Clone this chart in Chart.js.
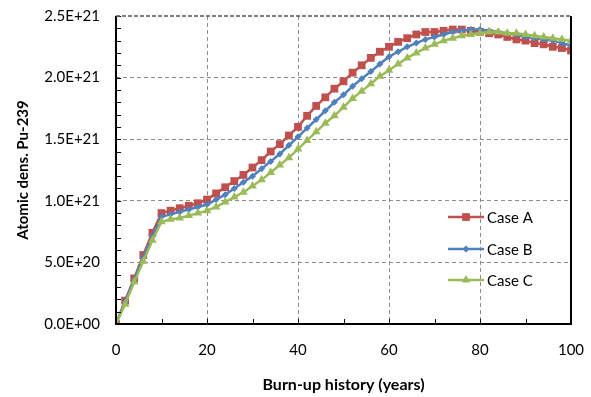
<!DOCTYPE html>
<html>
<head>
<meta charset="utf-8">
<script src="https://cdn.jsdelivr.net/npm/chart.js@4.4.1/dist/chart.umd.min.js"></script>
<style>
  html, body { margin: 0; padding: 0; background: #fff; }
  #wrap { width: 591px; height: 397px; }
</style>
</head>
<body>
<div id="wrap"><canvas id="pu239Chart" width="591" height="397"></canvas></div>
<script>
// burn-up years, every 2 years
const years = [];
for (let y = 0; y <= 100; y += 2) years.push(y);

// atomic density Pu-239, in units of 1E+21
const caseA = [0, 0.19, 0.37, 0.56, 0.74, 0.90, 0.92, 0.94, 0.96, 0.98,
  1.01, 1.06, 1.11, 1.16, 1.21, 1.27, 1.33, 1.40, 1.46, 1.53,
  1.60, 1.69, 1.77, 1.84, 1.91, 1.97, 2.04, 2.10, 2.16, 2.21,
  2.25, 2.29, 2.32, 2.35, 2.37, 2.37, 2.38, 2.39, 2.39, 2.38,
  2.37, 2.36, 2.35, 2.33, 2.31, 2.30, 2.28, 2.27, 2.25, 2.24, 2.22];
const caseB = [0, 0.18, 0.36, 0.54, 0.71, 0.87, 0.89, 0.91, 0.93, 0.95,
  0.97, 1.01, 1.05, 1.10, 1.15, 1.20, 1.26, 1.32, 1.38, 1.45,
  1.52, 1.59, 1.66, 1.73, 1.80, 1.86, 1.93, 1.99, 2.05, 2.11,
  2.17, 2.21, 2.25, 2.28, 2.31, 2.33, 2.35, 2.37, 2.38, 2.39,
  2.39, 2.38, 2.37, 2.36, 2.35, 2.33, 2.32, 2.31, 2.30, 2.28, 2.26];
const caseC = [0, 0.16, 0.34, 0.51, 0.68, 0.83, 0.85, 0.86, 0.88, 0.90,
  0.92, 0.95, 0.99, 1.03, 1.07, 1.12, 1.17, 1.23, 1.29, 1.35,
  1.42, 1.49, 1.56, 1.63, 1.69, 1.76, 1.83, 1.89, 1.95, 2.01,
  2.06, 2.11, 2.16, 2.20, 2.24, 2.27, 2.30, 2.32, 2.34, 2.35,
  2.36, 2.37, 2.37, 2.36, 2.36, 2.35, 2.34, 2.33, 2.32, 2.31, 2.30];

const yTicks = [0, 5e20, 1e21, 1.5e21, 2e21, 2.5e21];
const xTicks = [0, 20, 40, 60, 80, 100];

const toPoints = (vals) => vals.map((v, i) => ({ x: years[i], y: v * 1e21 }));

const FONT = "Lato, 'Open Sans', sans-serif";

const series = [
  { label: "Case A", data: caseA, color: "#C0504D", style: "rect", radius: 5.5, order: 3 },
  { label: "Case B", data: caseB, color: "#4F81BD", style: "rectRot", radius: 3.5, order: 2 },
  { label: "Case C", data: caseC, color: "#9BBB59", style: "triangle", radius: 5, order: 1 }
];

// inside tick marks + frame
const frameAndTicks = {
  id: "frameAndTicks",
  afterDatasetsDraw(chart) {
    const { ctx, chartArea: a, scales } = chart;
    ctx.save();
    ctx.strokeStyle = "#000";
    ctx.lineWidth = 1;
    for (let v = 0; v <= 2.5e21 + 1; v += 1e20) {
      const py = Math.round(scales.y.getPixelForValue(v)) + 0.5;
      ctx.beginPath();
      ctx.moveTo(a.left, py);
      ctx.lineTo(a.left + 5, py);
      ctx.stroke();
    }
    for (let v = 10; v < 100; v += 10) {
      const px = Math.round(scales.x.getPixelForValue(v)) + 0.5;
      ctx.beginPath();
      ctx.moveTo(px, a.bottom);
      ctx.lineTo(px, a.bottom - 5);
      ctx.stroke();
    }
    ctx.lineWidth = 2;
    ctx.beginPath();
    ctx.moveTo(a.left, a.top);
    ctx.lineTo(a.left, a.bottom);
    ctx.lineTo(a.right, a.bottom);
    ctx.lineTo(a.right, a.top);
    ctx.stroke();
    ctx.strokeStyle = "#555";
    ctx.lineWidth = 1.5;
    ctx.setLineDash([4, 2]);
    ctx.beginPath();
    ctx.moveTo(a.left, a.top);
    ctx.lineTo(a.right, a.top);
    ctx.stroke();
    ctx.restore();
  }
};

// legend inside the plot area
const insideLegend = {
  id: "insideLegend",
  afterDraw(chart) {
    const { ctx } = chart;
    const rows = [217, 249, 280];
    ctx.save();
    chart.data.datasets.forEach((ds, i) => {
      const y = rows[i];
      ctx.strokeStyle = ds.borderColor;
      ctx.lineWidth = 2.5;
      ctx.beginPath();
      ctx.moveTo(448, y);
      ctx.lineTo(484, y);
      ctx.stroke();
      ctx.fillStyle = ds.backgroundColor;
      Chart.helpers.drawPoint(ctx, {
        pointStyle: ds.pointStyle, radius: ds.pointRadius, borderWidth: 0
      }, 466, y);
      ctx.fillStyle = "#000";
      ctx.font = "15px " + FONT;
      ctx.textBaseline = "middle";
      ctx.fillText(ds.label, 487, y + 1);
    });
    ctx.restore();
  }
};

new Chart(document.getElementById("pu239Chart"), {
  type: "line",
  data: {
    datasets: series.map(s => ({
      label: s.label,
      data: toPoints(s.data),
      borderColor: s.color,
      backgroundColor: s.color,
      borderWidth: 2.5,
      pointStyle: s.style,
      pointRadius: s.radius,
      pointBorderWidth: 0,
      pointBackgroundColor: s.color,
      tension: 0,
      order: s.order
    }))
  },
  options: {
    responsive: false,
    animation: false,
    layout: { padding: { top: 16, right: 20, left: 0, bottom: 0 } },
    plugins: {
      legend: { display: false },
      tooltip: { enabled: false }
    },
    scales: {
      x: {
        type: "linear",
        min: 0,
        max: 100,
        afterBuildTicks: (s) => { s.ticks = xTicks.map(v => ({ value: v })); },
        afterFit: (s) => { s.height = 73; s.paddingLeft = 0; s.paddingRight = 0; },
        ticks: { color: "#000", font: { size: 15, family: FONT }, padding: 17, maxRotation: 0 },
        grid: {
          color: (c) => (c.tick && c.tick.value > 0 && c.tick.value < 100) ? "#8c8c8c" : "rgba(0,0,0,0)",
          lineWidth: 1,
          drawTicks: false
        },
        border: { display: false, dash: [4, 3] },
        title: {
          display: true,
          text: "Burn-up history (years)",
          color: "#000",
          font: { size: 16, weight: "bold", family: FONT },
          padding: { top: 0, bottom: 3 }
        }
      },
      y: {
        type: "linear",
        min: 0,
        max: 2.5e21,
        afterBuildTicks: (s) => { s.ticks = yTicks.map(v => ({ value: v })); },
        afterFit: (s) => { s.width = 116; s.paddingTop = 0; s.paddingBottom = 0; },
        ticks: {
          color: "#000",
          font: { size: 15, family: FONT },
          padding: 16,
          callback: (v) => Number(v).toExponential(1).toUpperCase().replace("E+0", "E+00").replace(/E\+(\d)$/, "E+0$1")
        },
        grid: {
          color: (c) => (c.tick && c.tick.value > 0 && c.tick.value < 2.5e21) ? "#8c8c8c" : "rgba(0,0,0,0)",
          lineWidth: 1,
          drawTicks: false
        },
        border: { display: false, dash: [4, 3] },
        title: {
          display: true,
          text: "Atomic dens. Pu-239",
          color: "#000",
          font: { size: 15, weight: "bold", family: FONT },
          padding: { top: 14, bottom: 0 }
        }
      }
    }
  },
  plugins: [frameAndTicks, insideLegend]
});
</script>
</body>
</html>
